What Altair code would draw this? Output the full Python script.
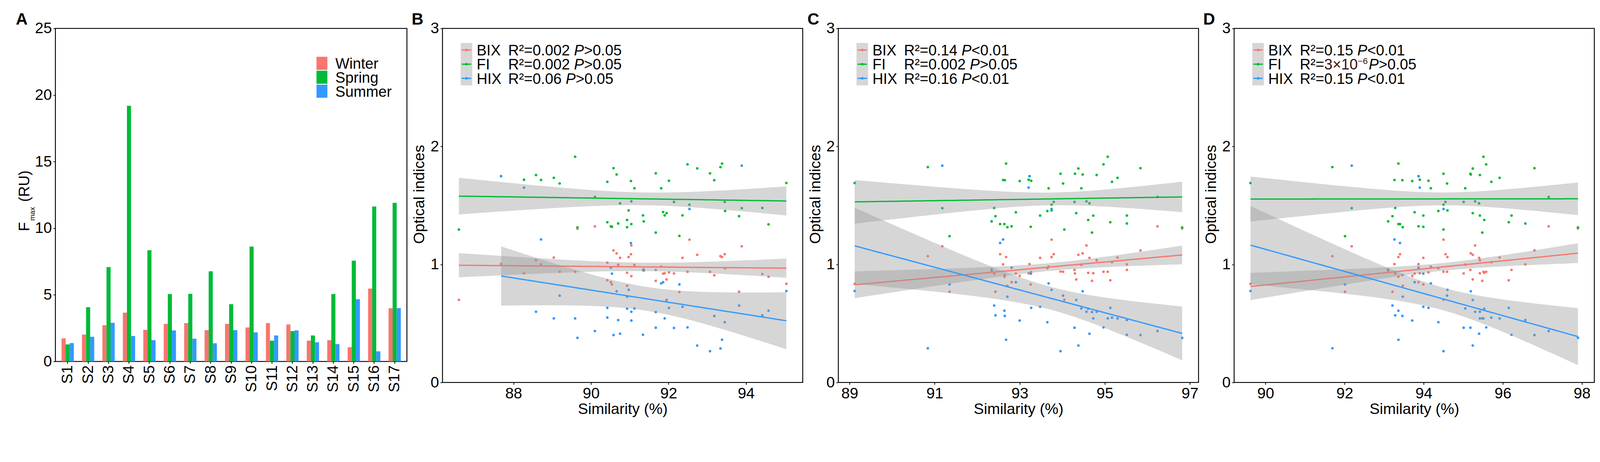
import altair as alt
import numpy as np
import pandas as pd

FONT = "Liberation Sans"
RED, GREEN, BLUE = "#F8766D", "#00BA38", "#3399FF"
INDICES = ["BIX", "FI", "HIX"]
IDX_COLORS = [RED, GREEN, BLUE]

# ---------------- Panel A : Fmax per site and season ----------------
SITES = ["S1", "S2", "S3", "S4", "S5", "S6", "S7", "S8", "S9", "S10",
         "S11", "S12", "S13", "S14", "S15", "S16", "S17"]
SEASONS = ["Winter", "Spring", "Summer"]
WINTER = [1.73, 2.02, 2.72, 3.66, 2.37, 2.82, 2.88, 2.35, 2.82, 2.55, 2.88, 2.78, 1.56, 1.60, 1.07, 5.47, 3.99]
SPRING = [1.28, 4.07, 7.08, 19.20, 8.35, 5.06, 5.08, 6.77, 4.30, 8.62, 1.56, 2.28, 1.95, 5.06, 7.57, 11.63, 11.91]
SUMMER = [1.38, 1.85, 2.90, 1.91, 1.60, 2.33, 1.71, 1.36, 2.35, 2.18, 1.95, 2.33, 1.44, 1.30, 4.67, 0.76, 4.01]
A_TICKS = [0, 5, 10, 15, 20, 25]

# ---------------- Panel B ----------------
B_SIM = [86.59, 87.68, 88.27, 88.58, 88.71, 89.04, 89.19, 89.59, 89.65, 90.10, 90.42, 90.42, 90.51, 90.54,
         90.58, 90.66, 90.70, 90.75, 90.93, 90.93, 90.97, 91.03, 91.04, 91.04, 91.12, 91.34, 91.36, 91.67,
         91.67, 91.81, 91.86, 91.90, 91.95, 92.01, 92.14, 92.28, 92.36, 92.49, 92.54, 92.74, 93.07, 93.18,
         93.34, 93.38, 93.45, 93.46, 93.82, 93.89, 94.42, 94.58, 95.04]
B_BIX = [0.700, 1.005, 0.926, 1.036, 1.001, 1.059, 0.938, 0.938, 1.303, 1.323, 1.015, 0.866, 0.850, 0.831,
         1.119, 1.094, 0.998, 1.056, 0.929, 0.820, 1.063, 1.087, 0.901, 1.161, 0.996, 0.954, 0.947, 0.861,
         0.954, 0.982, 0.922, 0.926, 0.873, 0.933, 0.924, 0.766, 1.056, 0.938, 1.210, 1.082, 0.938, 0.908,
         1.070, 1.063, 1.087, 0.968, 0.769, 1.154, 0.919, 0.896, 0.836]
B_FI = [1.296, 1.748, 1.718, 1.758, 1.716, 1.734, 1.686, 1.913, 1.314, 1.572, 1.700, 1.358, 1.323, 1.319,
        1.816, 1.762, 1.347, 1.518, 1.377, 1.316, 1.458, 1.707, 1.342, 1.535, 1.646, 1.416, 1.365, 1.270,
        1.772, 1.646, 1.444, 1.416, 1.435, 1.709, 1.530, 1.242, 1.416, 1.848, 1.507, 1.814, 1.772, 1.714,
        1.825, 1.855, 1.530, 1.453, 1.409, 1.477, 1.479, 1.340, 1.690]
B_HIX = [None, 1.748, 1.651, 0.599, 1.212, 0.543, 0.736, 0.543, 0.378, 0.436, 0.632, 0.550, 0.973, 0.922,
         0.402, 0.773, 0.529, 0.413, 0.727, 0.625, 0.785, 1.182, 0.599, 0.525, 0.627, 0.404, 0.957, 0.597,
         0.464, 0.840, 0.850, 0.543, 0.699, 0.632, 0.462, 0.831, 0.641, 0.467, 1.470, 0.313, 0.265, 0.564,
         0.288, 0.362, 0.511, None, 0.652, 1.837, 0.569, 0.608, 0.775]
B_TICKS = [88, 90, 92, 94]
B_R2 = ["0.002", "0.002", "0.06"]
B_P = [">0.05", ">0.05", ">0.05"]

# ---------------- Panel C ----------------
C_SIM = [89.12, 90.84, 91.18, 91.35, 92.34, 92.40, 92.43, 92.54, 92.61, 92.64, 92.65, 92.68, 92.71, 92.81,
         92.91, 93.00, 93.21, 93.23, 93.26, 93.27, 93.48, 93.65, 93.68, 93.75, 93.75, 93.80, 93.96, 94.02,
         94.05, 94.29, 94.30, 94.33, 94.38, 94.45, 94.48, 94.57, 94.61, 94.64, 94.70, 94.73, 94.81, 94.97,
         95.07, 95.13, 95.17, 95.30, 95.52, 95.52, 95.84, 96.24, 96.82]
C_BIX = [0.836, 1.070, 1.154, 0.769, 0.947, 0.922, 0.769, 1.087, 1.001, 0.896, 0.910, 1.063, 0.820, 0.850,
         0.922, 0.903, 0.926, 1.003, 0.831, 0.936, 1.056, 0.968, 0.982, 1.210, 1.063, 1.087, 0.940, 0.938,
         0.701, 0.954, 0.924, 0.873, 1.082, 0.998, 1.094, 1.161, 0.929, 1.056, 0.861, 0.926, 1.036, 0.938,
         0.938, 0.866, 1.019, 1.059, 1.001, 0.954, 1.119, 1.323, 1.305]
C_FI = [1.690, 1.825, 1.477, 1.240, 1.365, 1.479, 1.409, 1.342, 1.716, 1.342, 1.714, 1.855, 1.316, 1.323,
        1.442, 1.707, 1.718, 1.748, 1.319, 1.709, 1.414, 1.453, 1.646, 1.458, 1.507, 1.530, 1.769, 1.686,
        1.296, 1.530, 1.769, 1.435, 1.813, 1.646, 1.762, 1.535, 1.377, 1.518, 1.270, 1.414, 1.758, 1.848,
        1.913, 1.358, 1.700, 1.734, 1.414, 1.347, 1.816, 1.572, 1.314]
C_HIX = [0.775, 0.290, 1.837, 0.831, 0.957, 0.652, 0.569, 1.182, 1.212, 0.608, 0.564, 0.362, 0.727, 0.973,
         0.850, 0.525, 1.651, 1.748, 0.922, 0.632, 0.641, 0.511, 0.840, 0.785, 1.470, None, 0.265, 0.736,
         None, 0.464, None, 0.699, 0.313, 0.627, 0.773, 0.599, 0.625, 0.413, 0.597, 0.543, 0.599, 0.467,
         0.543, 0.632, 0.550, 0.543, 0.529, 0.404, 0.402, 0.436, 0.378]
C_TICKS = [89, 91, 93, 95, 97]
C_R2 = ["0.14", "0.002", "0.16"]
C_P = ["<0.01", ">0.05", "<0.01"]

# ---------------- Panel D ----------------
D_SIM = [89.62, 91.69, 92.01, 92.18, 93.10, 93.21, 93.26, 93.28, 93.36, 93.36, 93.40, 93.46, 93.47, 93.71,
         93.77, 93.87, 93.87, 93.90, 93.99, 93.99, 94.12, 94.18, 94.37, 94.50, 94.50, 94.50, 94.55, 94.59,
         94.60, 95.01, 95.05, 95.18, 95.19, 95.24, 95.24, 95.30, 95.40, 95.42, 95.42, 95.48, 95.51, 95.53,
         95.58, 95.71, 95.92, 96.15, 96.22, 96.57, 96.80, 97.16, 97.90]
D_BIX = [0.836, 1.070, 0.769, 1.154, 0.947, 0.769, 1.003, 0.922, 1.063, 0.896, 1.087, 0.910, 0.820, 0.903,
         0.922, 0.850, 1.003, 0.926, 1.056, 0.831, 0.933, 0.982, 0.968, 0.938, 1.210, 0.701, 1.087, 0.938,
         1.063, 0.924, 0.998, 0.954, 1.094, 1.082, 0.873, 1.161, 1.056, 1.036, 0.926, 0.861, 0.938, 0.929,
         0.938, 1.019, 1.059, 0.866, 0.954, 1.001, 1.119, 1.323, 1.305]
D_FI = [1.690, 1.825, 1.240, 1.477, 1.365, 1.409, 1.716, 1.479, 1.855, 1.342, 1.342, 1.714, 1.316, 1.707,
        1.442, 1.323, 1.748, 1.718, 1.414, 1.319, 1.709, 1.646, 1.453, 1.769, 1.507, 1.296, 1.530, 1.686,
        1.458, 1.530, 1.646, 1.769, 1.762, 1.813, 1.435, 1.535, 1.518, 1.758, 1.414, 1.270, 1.913, 1.377,
        1.848, 1.700, 1.734, 1.358, 1.414, 1.347, 1.816, 1.572, 1.314]
D_HIX = [0.775, 0.290, 0.831, 1.837, 0.957, 0.652, 1.212, 0.569, 0.362, 0.608, 1.182, 0.564, 0.727, 0.525,
         0.850, 0.973, 1.748, 1.651, 0.641, 0.922, 0.632, 0.840, 0.511, 0.265, 1.470, None, None, 0.736,
         0.785, 0.464, 0.627, 0.464, 0.773, 0.313, 0.699, 0.599, 0.413, 0.599, 0.543, 0.543, 0.543, 0.625,
         0.467, 0.550, 0.543, 0.632, 0.404, 0.529, 0.402, 0.436, 0.378]
D_TICKS = [90, 92, 94, 96, 98]
D_R2 = ["0.15", ("3×10", "−6"), "0.15"]
D_P = ["<0.01", ">0.05", "<0.01"]

# ---------------- helpers ----------------
ADV = {"R": .722, "²": .333, "=": .584, ".": .278, " ": .278, "<": .584, ">": .584,
       "P": .667, "×": .584, "−": .584}


def text_width(s, size):
    return sum(ADV.get(c, .556) for c in s) * size


def t975(df):
    z = 1.959963985
    g1 = (z ** 3 + z) / 4
    g2 = (5 * z ** 5 + 16 * z ** 3 + 3 * z) / 96
    g3 = (3 * z ** 7 + 19 * z ** 5 + 17 * z ** 3 - 15 * z) / 384
    return z + g1 / df + g2 / df ** 2 + g3 / df ** 3


def lm_band(x, y, n_grid=80):
    x = np.asarray(x, float)
    y = np.asarray(y, float)
    n = len(x)
    xm = x.mean()
    sxx = ((x - xm) ** 2).sum()
    b = ((x - xm) * (y - y.mean())).sum() / sxx
    a = y.mean() - b * xm
    s = np.sqrt(((y - (a + b * x)) ** 2).sum() / (n - 2))
    g = np.linspace(x.min(), x.max(), n_grid)
    f = a + b * g
    se = s * np.sqrt(1.0 / n + (g - xm) ** 2 / sxx)
    t = t975(n - 2)
    return g, f, f - t * se, f + t * se


def label(text, x, y, size=41, color="black", style="normal", weight="normal", angle=0):
    return alt.Chart(pd.DataFrame({"t": [text]})).mark_text(
        font=FONT, fontSize=size, color=color, fontStyle=style, fontWeight=weight,
        angle=angle, align="left", baseline="alphabetic"
    ).encode(x=alt.value(x), y=alt.value(y), text="t:N")


def one():
    return pd.DataFrame({"k": [0]})


LEG_SIZE = 41
ROW_Y = [59.5, 98.5, 137.5]


def scatter_panel(letter, sim, bix, fi, hix, ticks, r2s, ps):
    rows = []
    for name, vals in zip(INDICES, [bix, fi, hix]):
        for xv, yv in zip(sim, vals):
            if yv is not None:
                rows.append({"sim": xv, "idx": name, "val": yv})
    pts = pd.DataFrame(rows)
    lo_x, hi_x = pts["sim"].min(), pts["sim"].max()
    rng = hi_x - lo_x
    xscale = alt.Scale(domain=[lo_x - 0.05 * rng, hi_x + 0.05 * rng], nice=False, zero=False)
    yscale = alt.Scale(domain=[0, 3], nice=False, zero=False)
    xaxis = alt.Axis(values=ticks, format="d", title="Similarity (%)", titlePadding=2)
    yaxis = alt.Axis(values=[0, 1, 2, 3], format="d", title="Optical indices", titlePadding=8, titleY=457)

    def X(f):
        return alt.X(f, type="quantitative", scale=xscale, axis=xaxis)

    def Y(f):
        return alt.Y(f, type="quantitative", scale=yscale, axis=yaxis)

    layers = [
        alt.Chart(pts).mark_circle(size=50, opacity=1).encode(
            x=X("sim"), y=Y("val"),
            color=alt.Color("idx:N", scale=alt.Scale(domain=INDICES, range=IDX_COLORS), legend=None))
    ]
    for name, col in zip(INDICES, IDX_COLORS):
        sub = pts[pts["idx"] == name]
        g, f, lo, hi = lm_band(sub["sim"], sub["val"])
        fd = pd.DataFrame({"sim": g, "fit": f, "lo": lo, "hi": hi})
        layers.append(alt.Chart(fd).mark_area(color="#999999", opacity=0.4).encode(
            x=X("sim"), y=Y("lo"), y2="hi"))
        layers.append(alt.Chart(fd).mark_line(color=col, strokeWidth=3.5).encode(
            x=X("sim"), y=Y("fit")))

    # legend
    layers.append(alt.Chart(one()).mark_rect(color="#999999", opacity=0.4).encode(
        x=alt.value(50), x2=alt.value(82), y=alt.value(40), y2=alt.value(157)))
    for i, (name, col) in enumerate(zip(INDICES, IDX_COLORS)):
        cy = ROW_Y[i]
        base = cy + 14.8
        layers.append(alt.Chart(one()).mark_rule(color=col, strokeWidth=3.5).encode(
            x=alt.value(53), x2=alt.value(79), y=alt.value(cy)))
        layers.append(alt.Chart(one()).mark_circle(color=col, size=50, opacity=1).encode(
            x=alt.value(66), y=alt.value(cy)))
        layers.append(label(name, 94, base))
        x = 181
        r2 = r2s[i]
        if isinstance(r2, tuple):
            mant, expo = r2
            layers.append(label("R²=", x, base))
            x += text_width("R²=", LEG_SIZE)
            layers.append(label(mant, x, base, color="#3b0f0f"))
            x += text_width(mant, LEG_SIZE)
            layers.append(label(expo, x, base - 15, size=24, color="#3b0f0f"))
            x += text_width(expo, 24) + 3
        else:
            s = "R²=" + r2
            layers.append(label(s, x, base))
            x += text_width(s + " ", LEG_SIZE)
        layers.append(label("P", x, base, style="italic"))
        x += text_width("P", LEG_SIZE)
        layers.append(label(ps[i], x, base))

    layers.append(label(letter, -85, -11, size=45, weight="bold"))
    return alt.layer(*layers).properties(width=992, height=976)


# ---------------- Panel A chart ----------------
bar_rows = []
for season, vals in zip(SEASONS, [WINTER, SPRING, SUMMER]):
    for site, v in zip(SITES, vals):
        bar_rows.append({"site": site, "season": season, "fmax": v})
bar_df = pd.DataFrame(bar_rows)

bars = alt.Chart(bar_df).mark_bar().encode(
    x=alt.X("site:N", sort=SITES, scale=alt.Scale(paddingInner=0.4, paddingOuter=0.3),
            axis=alt.Axis(title=None, labelAngle=270)),
    xOffset=alt.XOffset("season:N", sort=SEASONS, scale=alt.Scale(paddingInner=0, paddingOuter=0)),
    y=alt.Y("fmax:Q", scale=alt.Scale(domain=[0, 25], nice=False),
            axis=alt.Axis(values=A_TICKS, title=None)),
    color=alt.Color("season:N", scale=alt.Scale(domain=SEASONS, range=IDX_COLORS), legend=None),
)

a_layers = [bars]
for i, (season, col) in enumerate(zip(SEASONS, IDX_COLORS)):
    top = 78 + 38.5 * i
    a_layers.append(alt.Chart(one()).mark_rect(color=col).encode(
        x=alt.value(719), x2=alt.value(749), y=alt.value(top), y2=alt.value(top + 36)))
    a_layers.append(label(season, 771, top + 33))
# y-axis title  F_max (RU)
a_layers.append(label("F", -72, 559, size=41, angle=270))
a_layers.append(label("max", -57, 530, size=20, angle=270))
a_layers.append(label("(RU)", -72, 478, size=41, angle=270))
a_layers.append(label("A", -109, -11, size=45, weight="bold"))
panel_a = alt.layer(*a_layers).properties(width=968, height=918)

panel_b = scatter_panel("B", B_SIM, B_BIX, B_FI, B_HIX, B_TICKS, B_R2, B_P)
panel_c = scatter_panel("C", C_SIM, C_BIX, C_FI, C_HIX, C_TICKS, C_R2, C_P)
panel_d = scatter_panel("D", D_SIM, D_BIX, D_FI, D_HIX, D_TICKS, D_R2, D_P)

chart = alt.hconcat(panel_a, panel_b, panel_c, panel_d, spacing=98, bounds="flush").properties(
    padding={"left": 33, "top": -21, "right": 5, "bottom": 5}
).configure_view(
    stroke="black", strokeWidth=2.5
).configure_axis(
    domain=False, grid=False, ticks=True, tickColor="black", tickWidth=2, tickSize=6,
    labelFont=FONT, labelFontSize=42, labelColor="black", labelPadding=4,
    labelFlush=False, labelOverlap=False,
    titleFont=FONT, titleFontSize=42, titleFontWeight="normal", titleColor="black",
)

chart.save("out.html", embed_options={"renderer": "svg", "actions": False})
